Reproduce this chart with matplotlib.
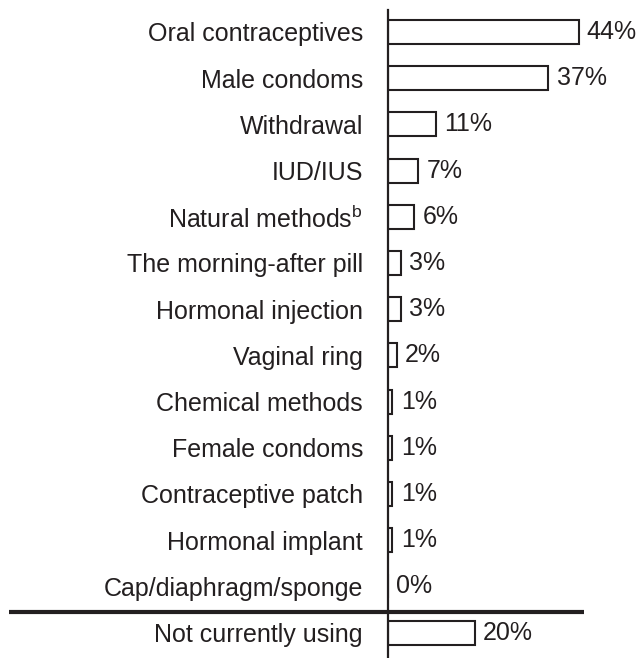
import matplotlib
matplotlib.use("Agg")
import matplotlib.pyplot as plt
import matplotlib.transforms as mtransforms

plt.rcParams['font.family'] = ['Liberation Sans', 'DejaVu Sans']
plt.rcParams['mathtext.fontset'] = 'custom'
plt.rcParams['mathtext.rm'] = 'Liberation Sans'

# data
methods = ['Oral contraceptives', 'Male condoms', 'Withdrawal', 'IUD/IUS',
           'Natural methods$^{\\mathrm{b}}$', 'The morning-after pill', 'Hormonal injection',
           'Vaginal ring', 'Chemical methods', 'Female condoms', 'Contraceptive patch',
           'Hormonal implant', 'Cap/diaphragm/sponge', 'Not currently using']
percent = [44, 37, 11, 7, 6, 3, 3, 2, 1, 1, 1, 1, 0, 20]

ink = '#231f20'
W, H = 641, 658

fig = plt.figure(figsize=(W / 100, H / 100), dpi=100)
ax = fig.add_axes([388 / W, 0, 216.5 / W, 648 / H])

ypos = list(range(len(methods)))
ax.barh(ypos, percent, height=0.52, color='white', edgecolor=ink, linewidth=1.5)

# value labels right of each bar
for y, v in zip(ypos, percent):
    ax.annotate(f'{v}%', (v, y), xytext=(6, 0), textcoords='offset points',
                va='center', ha='left', fontsize=18, color=ink)

ax.set_xlim(0, 50)
ax.set_ylim(13.55, -0.476)
ax.set_yticks(ypos)
ax.set_yticklabels(methods, fontsize=18, color=ink)
ax.tick_params(axis='y', length=0, pad=18)
ax.set_xticks([])
for s in ['top', 'right', 'bottom']:
    ax.spines[s].set_visible(False)
ax.spines['left'].set_linewidth(1.6)
ax.spines['left'].set_color(ink)

# separator between current methods and "not currently using"
trans = mtransforms.blended_transform_factory(fig.transFigure, ax.transData)
ax.plot([9 / W, 584 / W], [12.55, 12.55], transform=trans, color=ink,
        linewidth=3, clip_on=False, solid_capstyle='butt')

fig.savefig('out.png', dpi=100)
